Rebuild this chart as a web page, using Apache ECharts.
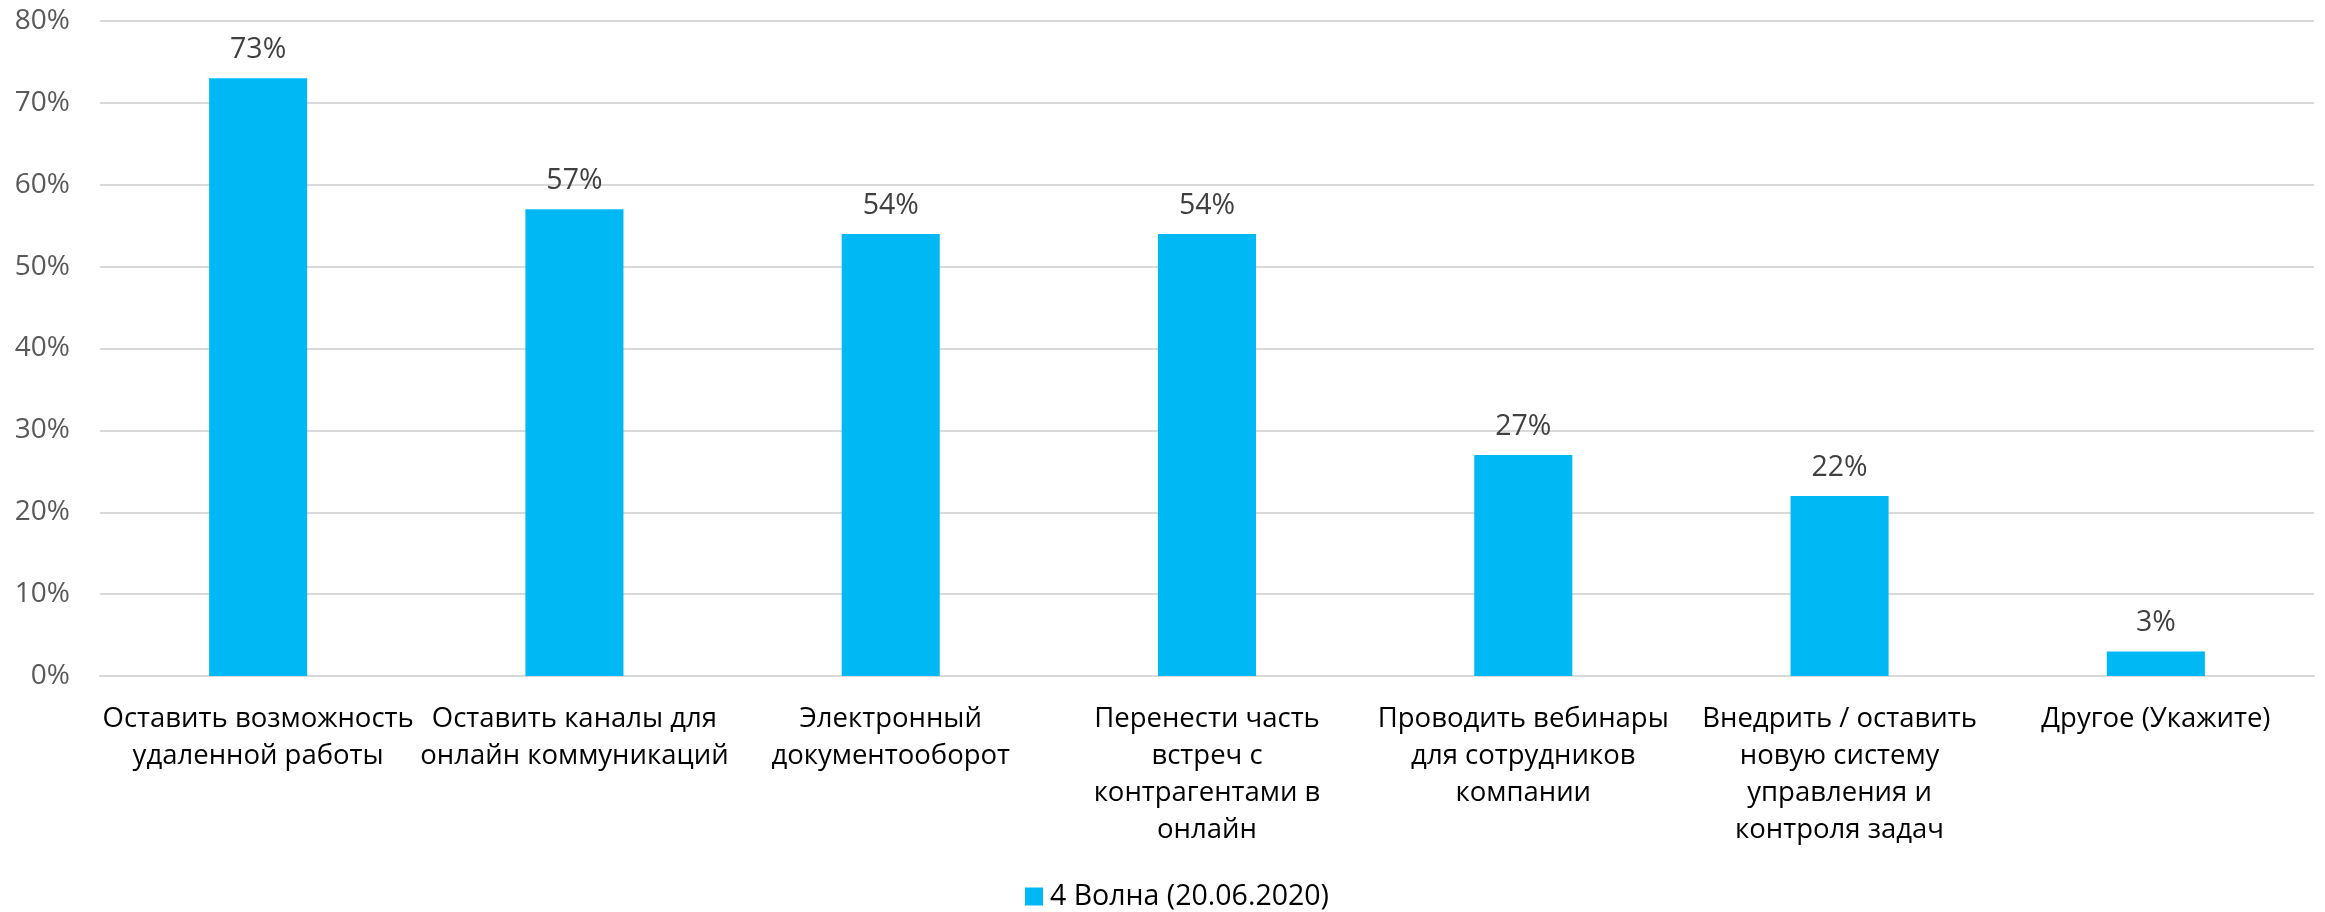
<!DOCTYPE html>
<html>
<head>
<meta charset="utf-8">
<script src="https://cdn.jsdelivr.net/npm/echarts@6/dist/echarts.min.js"></script>
<style>
  html, body { margin: 0; padding: 0; background: #ffffff; }
  #chart { width: 2325px; height: 912px; }
</style>
</head>
<body>
<div id="chart"></div>
<script>
// Survey answers: what companies plan to keep after the lockdown
const categories = [
  'Оставить возможность\nудаленной работы',
  'Оставить каналы для\nонлайн коммуникаций',
  'Электронный\nдокументооборот',
  'Перенести часть\nвстреч с\nконтрагентами в\nонлайн',
  'Проводить вебинары\nдля сотрудников\nкомпании',
  'Внедрить / оставить\nновую систему\nуправления и\nконтроля задач',
  'Другое (Укажите)'
];
const seriesName = '4 Волна (20.06.2020)';
const values = [73, 57, 54, 54, 27, 22, 3];
const yTicks = { min: 0, max: 80, step: 10 };

const FONT = '"Open Sans", "Noto Sans", sans-serif';

const chart = echarts.init(document.getElementById('chart'), null, { renderer: 'canvas' });
chart.setOption({
  backgroundColor: '#ffffff',
  animation: false,
  textStyle: { fontFamily: FONT },
  grid: { left: 100, right: 11, top: 21, bottom: 236, containLabel: false },
  legend: {
    data: [seriesName],
    left: 1025,
    top: 882,
    padding: 0,
    itemWidth: 18,
    itemHeight: 18,
    itemGap: 6,
    icon: 'rect',
    textStyle: { fontFamily: FONT, fontSize: 28.5, color: '#000000', padding: [0, 0, 0, 2] }
  },
  xAxis: {
    type: 'category',
    data: categories,
    axisTick: { show: false },
    axisLine: { show: true, lineStyle: { color: '#d9d9d9', width: 2 } },
    axisLabel: {
      interval: 0,
      margin: 25,
      fontFamily: FONT,
      fontSize: 27.5,
      lineHeight: 37,
      color: '#000000'
    }
  },
  yAxis: {
    type: 'value',
    min: yTicks.min,
    max: yTicks.max,
    interval: yTicks.step,
    axisLine: { show: false },
    axisTick: { show: false },
    splitLine: { lineStyle: { color: '#d9d9d9', width: 2 } },
    axisLabel: {
      formatter: '{value}%',
      margin: 30,
      fontFamily: FONT,
      fontSize: 28,
      color: '#595959'
    }
  },
  series: [{
    name: seriesName,
    type: 'bar',
    data: values,
    barWidth: '31%',
    itemStyle: { color: '#00B8F4' },
    label: {
      show: true,
      position: 'top',
      distance: 14,
      formatter: '{c}%',
      fontFamily: FONT,
      fontSize: 28.5,
      color: '#404040'
    }
  }]
});
</script>
</body>
</html>
